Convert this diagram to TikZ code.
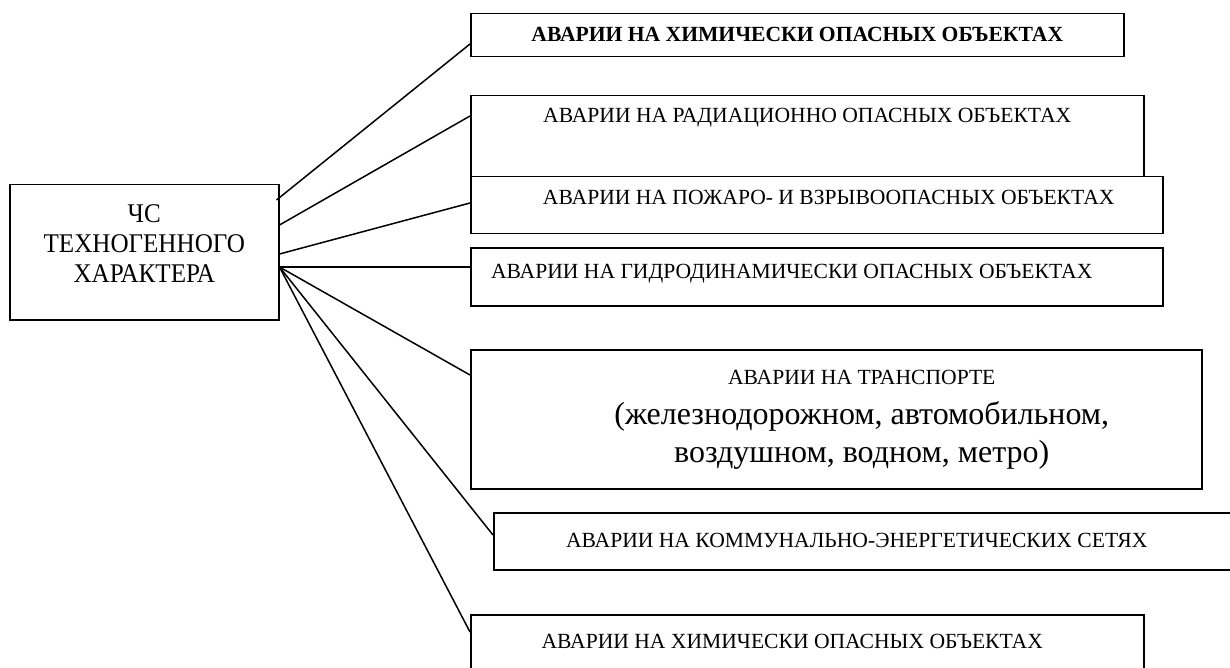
\documentclass[tikz,border=0pt]{standalone}
\usepackage{fontspec}
\setmainfont{Liberation Serif}
\newfontfamily\tallserif{Liberation Serif}[FakeStretch=0.93]

\begin{document}
\begin{tikzpicture}[x=1pt,y=-1pt,line width=1.5pt,
  every node/.style={inner sep=0pt,font=\fontsize{21.6}{26}\selectfont},
  box/.style 2 args={draw,anchor=north west,text height=#1,text depth=#2}]
\useasboundingbox (0,0) rectangle (1230,668);
\node[box={38pt}{97pt},minimum width=269pt,font=\tallserif\fontsize{27}{30}\selectfont] (tech) at (9,184) {\begin{tabular}[t]{@{}c@{}}ЧС\\ТЕХНОГЕННОГО\\ХАРАКТЕРА\end{tabular}};
\node[box={28pt}{15pt},minimum width=653pt,font=\fontsize{21.6}{26}\selectfont\bfseries] (chem) at (470,13) {АВАРИИ НА ХИМИЧЕСКИ ОПАСНЫХ ОБЪЕКТАХ};
\node[box={27pt}{54pt},minimum width=673pt] (rad) at (470,95) {АВАРИИ НА РАДИАЦИОННО ОПАСНЫХ ОБЪЕКТАХ};
\node[box={28pt}{29pt},minimum width=692pt] (fire) at (470,176) {\hspace*{24pt}АВАРИИ НА ПОЖАРО- И ВЗРЫВООПАСНЫХ ОБЪЕКТАХ};
\node[box={31pt}{27pt},minimum width=692pt] (hydro) at (470,247) {АВАРИИ НА ГИДРОДИНАМИЧЕСКИ ОПАСНЫХ ОБЪЕКТАХ\hspace*{50pt}};
\node[box={35pt}{104pt},minimum width=731pt,font=\fontsize{32}{38}\selectfont] (trans) at (470,349) {\hspace*{51pt}\begin{tabular}[t]{@{}c@{}}{\fontsize{21.6}{26}\selectfont АВАРИИ НА ТРАНСПОРТЕ}\\[2pt](железнодорожном, автомобильном,\\воздушном, водном, метро)\end{tabular}};
\node[box={35pt}{22pt},minimum width=747pt] (comm) at (493,512) {АВАРИИ НА КОММУНАЛЬНО-ЭНЕРГЕТИЧЕСКИХ СЕТЯХ\hspace*{21pt}};
\node[box={34pt}{37pt},minimum width=673pt] (chemb) at (470,614) {АВАРИИ НА ХИМИЧЕСКИ ОПАСНЫХ ОБЪЕКТАХ\hspace*{30pt}};
\coordinate (hub) at ([yshift=-83pt]tech.north east);
\draw ([xshift=-3pt,yshift=-16pt]tech.north east) -- ([yshift=-31pt]chem.north west);
\draw ([yshift=-41pt]tech.north east) -- ([yshift=-21pt]rad.north west);
\draw ([yshift=-70pt]tech.north east) -- ([yshift=-27pt]fire.north west);
\draw (hub) -- ([yshift=-20pt]hydro.north west);
\draw (hub) -- ([yshift=-26pt]trans.north west);
\draw (hub) -- ([yshift=-23pt]comm.north west);
\draw (hub) -- ([yshift=-18pt]chemb.north west);
\end{tikzpicture}
\end{document}
